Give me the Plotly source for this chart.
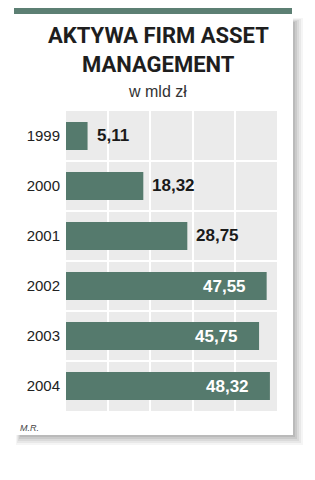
import plotly.graph_objects as go

years = ["1999", "2000", "2001", "2002", "2003", "2004"]
values = [5.11, 18.32, 28.75, 47.55, 45.75, 48.32]
labels = ["5,11", "18,32", "28,75", "47,55", "45,75", "48,32"]
inside_threshold = 40

W, H = 315, 480
BAR = "#557a6d"
FONT = "Liberation Sans, Arial, sans-serif"
TFONT = "Roboto, Liberation Sans, sans-serif"
PX0, PX1, PY0, PY1 = 66, 277, 111, 411  # plot area in pixels

n = len(years)
pos = list(range(n))

fig = go.Figure()
fig.add_trace(go.Bar(
    y=pos, x=values, orientation="h",
    marker=dict(color=BAR, line=dict(width=0)),
    width=0.56, hoverinfo="skip",
))

ann = []
for p, v, t in zip(pos, values, labels):
    if v > inside_threshold:
        ann.append(dict(x=v, y=p, xref="x", yref="y", text=t, showarrow=False,
                        xanchor="right", xshift=-19,
                        font=dict(family=FONT, size=17, color="white", weight="bold")))
    else:
        ann.append(dict(x=v, y=p, xref="x", yref="y", text=t, showarrow=False,
                        xanchor="left", xshift=7,
                        font=dict(family=FONT, size=17, color="#1a1a1a", weight="bold")))

# titles
ann += [
    dict(x=0.503, y=1 - 36/H, xref="paper", yref="paper", text="AKTYWA FIRM ASSET",
         showarrow=False, xanchor="center", yanchor="middle",
         font=dict(family=TFONT, size=22, color="#1e1e1e", weight="bold")),
    dict(x=0.503, y=1 - 65/H, xref="paper", yref="paper", text="MANAGEMENT",
         showarrow=False, xanchor="center", yanchor="middle",
         font=dict(family=TFONT, size=22, color="#1e1e1e", weight="bold")),
    dict(x=0.5, y=1 - 91/H, xref="paper", yref="paper", text="w mld zł",
         showarrow=False, xanchor="center", yanchor="middle",
         font=dict(family=FONT, size=16, color="#333333")),
    dict(x=18/W, y=1 - 428/H, xref="paper", yref="paper", text="<i>M.R.</i>",
         showarrow=False, xanchor="left", yanchor="middle",
         font=dict(family=FONT, size=9, color="#444444")),
]

shapes = []
# card shadow
for i, op in enumerate([0.04, 0.05, 0.06, 0.07, 0.08]):
    d = 10 - 2 * i
    shapes.append(dict(type="rect", xref="paper", yref="paper", layer="below",
                       x0=(16 + i) / W, x1=(293 + d) / W,
                       y0=1 - (435 + d) / H, y1=1 - (18 + i) / H,
                       fillcolor=f"rgba(0,0,0,{op})", line=dict(width=0)))
# card
shapes.append(dict(type="rect", xref="paper", yref="paper", layer="below",
                   x0=14/W, x1=293/W, y0=1 - 435/H, y1=1 - 13/H,
                   fillcolor="white", line=dict(width=0)))
# top strip
shapes.append(dict(type="rect", xref="paper", yref="paper", layer="below",
                   x0=14/W, x1=292/W, y0=1 - 14/H, y1=1 - 8/H,
                   fillcolor="#5c7f73", line=dict(width=0)))
# plot-area background (above the card)
shapes.append(dict(type="rect", xref="paper", yref="paper", layer="below",
                   x0=PX0/W, x1=PX1/W, y0=1 - PY1/H, y1=1 - PY0/H,
                   fillcolor="#ebebeb", line=dict(width=0)))
# row separators
row_h = (PY1 - PY0) / n
for k in range(1, n):
    yy = 1 - (PY0 + k * row_h) / H
    shapes.append(dict(type="line", xref="paper", yref="paper", layer="below",
                       x0=PX0/W, x1=PX1/W, y0=yy, y1=yy,
                       line=dict(color="white", width=2)))

fig.update_layout(
    width=W, height=H,
    margin=dict(l=0, r=0, t=0, b=0),
    paper_bgcolor="white", plot_bgcolor="#ebebeb",
    showlegend=False,
    annotations=ann, shapes=shapes,
    xaxis=dict(domain=[PX0/W, PX1/W], range=[0, 50], dtick=10,
               showgrid=True, gridcolor="white", gridwidth=2,
               showticklabels=False, zeroline=False, showline=False, ticks=""),
    yaxis=dict(domain=[1 - PY1/H, 1 - PY0/H], range=[n - 0.5, -0.5],
               tickmode="array", tickvals=pos, ticktext=years,
               showgrid=False, zeroline=False, showline=False, ticks="",
               ticklabelstandoff=5,
               tickfont=dict(family=FONT, size=15, color="#222222")),
)

fig.write_html("out.html")
